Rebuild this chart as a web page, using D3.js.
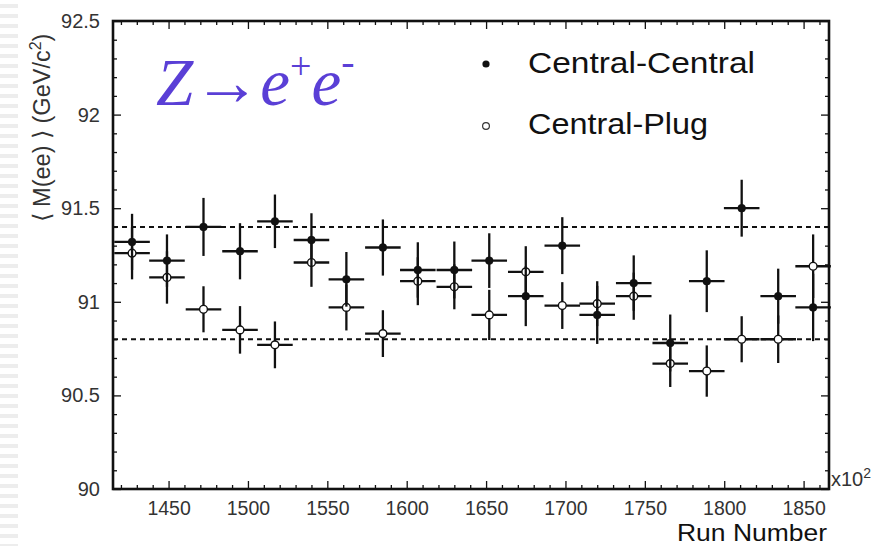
<!DOCTYPE html>
<html><head><meta charset="utf-8">
<script src="https://cdn.jsdelivr.net/npm/d3@7"></script>
<style>
html,body{margin:0;padding:0;background:#fff;}
svg{display:block;}
</style></head>
<body>
<svg id="chart" width="873" height="546"></svg>
<script>
// ---- data ----
const runs   = [1427,1449,1472,1495,1517,1540,1562,1585,1607,1630,1652,1675,1698,1720,1743,1766,1789,1811,1834,1856];
const runErr = 11.2;
const ccMass = [91.32,91.22,91.40,91.27,91.43,91.33,91.12,91.29,91.17,91.17,91.22,91.03,91.30,90.93,91.10,90.78,91.11,91.50,91.03,90.97];
const ccErr  = [0.15,0.14,0.155,0.15,0.143,0.143,0.146,0.15,0.148,0.152,0.146,0.16,0.152,0.155,0.148,0.152,0.165,0.152,0.147,0.18];
const cpMass = [91.26,91.13,90.96,90.85,90.77,91.21,90.97,90.83,91.11,91.08,90.93,91.16,90.98,90.99,91.03,90.67,90.63,90.80,90.80,91.19];
const cpErr  = [0.14,0.14,0.123,0.127,0.125,0.13,0.123,0.125,0.128,0.12,0.134,0.137,0.125,0.12,0.126,0.125,0.137,0.123,0.127,0.17];
const bandLines = [91.4, 90.8];
const xTickValues = [1450,1500,1550,1600,1650,1700,1750,1800,1850];
const yTickValues = [90,90.5,91,91.5,92,92.5];
const yTickLabels = ["90","90.5","91","91.5","92","92.5"];
const legendLabels = ["Central-Central","Central-Plug"];

// ---- layout ----
const svg = d3.select("#chart");
const L = 113, R = 829, T = 21, B = 489;
const x = d3.scaleLinear().domain([1415, 1866]).range([L, R]);
const y = d3.scaleLinear().domain([90, 92.5]).range([B, T]);
const ink = "#111";
const sans = "Liberation Sans, Arial, sans-serif";

// faint slide stripes at the left edge
const stripes = svg.append("g");
d3.range(4, 546, 10).forEach(v => {
  stripes.append("rect").attr("x", 0).attr("y", v).attr("width", 18).attr("height", 4)
    .attr("fill", "#ededed");
});

// minor / major ticks
const xMinor = d3.range(1420, 1866, 10).filter(v => v % 50 !== 0);
const yMinor = d3.range(901, 925, 1).map(v => v / 10).filter(v => Math.round(v * 10) % 5 !== 0);

function styleAxis(g) {
  g.select(".domain").remove();
  g.selectAll("line").attr("stroke", ink).attr("stroke-width", 1.3);
}
// bottom
svg.append("g").attr("transform", `translate(0,${B})`)
  .call(d3.axisBottom(x).tickValues(xTickValues).tickSize(-8).tickPadding(12.5).tickFormat(d3.format("d")))
  .call(styleAxis)
  .call(g => g.selectAll("text").attr("font-family", sans)
      .attr("font-size", 19.5).attr("fill", "#333"));
svg.append("g").attr("transform", `translate(0,${B})`)
  .call(d3.axisBottom(x).tickValues(xMinor).tickSize(-4).tickFormat(""))
  .call(styleAxis);
// top
svg.append("g").attr("transform", `translate(0,${T})`)
  .call(d3.axisTop(x).tickValues(xTickValues).tickSize(-8).tickFormat(""))
  .call(styleAxis);
svg.append("g").attr("transform", `translate(0,${T})`)
  .call(d3.axisTop(x).tickValues(xMinor).tickSize(-4).tickFormat(""))
  .call(styleAxis);
// left
svg.append("g").attr("transform", `translate(${L},0)`)
  .call(d3.axisLeft(y).tickValues(yTickValues).tickSize(-8).tickPadding(13)
        .tickFormat((d, i) => yTickLabels[i]))
  .call(styleAxis)
  .call(g => g.selectAll("text").attr("font-family", sans)
      .attr("font-size", 20).attr("fill", "#333"));
svg.append("g").attr("transform", `translate(${L},0)`)
  .call(d3.axisLeft(y).tickValues(yMinor).tickSize(-4).tickFormat(""))
  .call(styleAxis);
// right
svg.append("g").attr("transform", `translate(${R},0)`)
  .call(d3.axisRight(y).tickValues(yTickValues).tickSize(-8).tickFormat(""))
  .call(styleAxis);
svg.append("g").attr("transform", `translate(${R},0)`)
  .call(d3.axisRight(y).tickValues(yMinor).tickSize(-4).tickFormat(""))
  .call(styleAxis);

// frame
svg.append("rect").attr("x", L).attr("y", T).attr("width", R - L).attr("height", B - T)
  .attr("fill", "none").attr("stroke", ink).attr("stroke-width", 2.6);

// dashed reference lines
svg.append("g").selectAll("line").data(bandLines).join("line")
  .attr("x1", L).attr("x2", R).attr("y1", d => y(d)).attr("y2", d => y(d))
  .attr("stroke", ink).attr("stroke-width", 2).attr("stroke-dasharray", "5,4");

// error bars + markers
function drawSeries(mass, err, filled) {
  const g = svg.append("g");
  const data = runs.map((r, i) => ({ r, m: mass[i], e: err[i] }));
  g.selectAll(".v").data(data).join("line")
    .attr("x1", d => x(d.r)).attr("x2", d => x(d.r))
    .attr("y1", d => y(d.m - d.e)).attr("y2", d => y(d.m + d.e))
    .attr("stroke", ink).attr("stroke-width", 2.3);
  g.selectAll(".h").data(data).join("line")
    .attr("x1", d => x(d.r - runErr)).attr("x2", d => x(d.r + runErr))
    .attr("y1", d => y(d.m)).attr("y2", d => y(d.m))
    .attr("stroke", ink).attr("stroke-width", 2.3);
  g.selectAll("circle").data(data).join("circle")
    .attr("cx", d => x(d.r)).attr("cy", d => y(d.m))
    .attr("r", 3.9)
    .attr("fill", filled ? ink : "#fff").attr("stroke", ink).attr("stroke-width", filled ? 0.5 : 1.4);
}
drawSeries(cpMass, cpErr, false);
drawSeries(ccMass, ccErr, true);

// axis titles
svg.append("text").attr("x", 827).attr("y", 541).attr("text-anchor", "end")
  .attr("font-family", sans).attr("font-size", 24).attr("fill", "#111")
  .attr("textLength", 150).attr("lengthAdjust", "spacingAndGlyphs")
  .text("Run Number");
const xs = svg.append("text").attr("x", 831).attr("y", 486)
  .attr("font-family", sans).attr("font-size", 20).attr("fill", "#333");
xs.append("tspan").text("x10");
xs.append("tspan").attr("dy", -8).attr("font-size", 14).text("2");

const yl = svg.append("text").attr("transform", "translate(50,128) rotate(-90)")
  .attr("text-anchor", "middle")
  .attr("font-family", sans).attr("font-size", 23.5).attr("fill", "#333");
yl.append("tspan").text("\u27E8 M(ee) \u27E9 (GeV/c");
yl.append("tspan").attr("dy", -9).attr("font-size", 16).text("2");
yl.append("tspan").attr("dy", 9).text(")");

// legend
const lg = svg.append("g");
lg.append("circle").attr("cx", 486).attr("cy", 64).attr("r", 3.6).attr("fill", ink);
lg.append("circle").attr("cx", 486).attr("cy", 126).attr("r", 3.4).attr("fill", "#fff")
  .attr("stroke", "#333").attr("stroke-width", 1.2);
const legendWidths = [227, 180];
lg.selectAll("text").data(legendLabels).join("text")
  .attr("x", 528).attr("y", (d, i) => 73 + i * 61)
  .attr("font-family", sans).attr("font-size", 29).attr("fill", "#111")
  .attr("textLength", (d, i) => legendWidths[i]).attr("lengthAdjust", "spacingAndGlyphs")
  .text(d => d);

// reaction label
const tt = svg.append("text").attr("x", 156).attr("y", 105)
  .attr("font-family", "Liberation Serif, Times New Roman, serif").attr("font-style", "italic")
  .attr("font-size", 67).attr("fill", "#5a3fd6");
tt.append("tspan").text("Z");
tt.append("tspan").attr("font-style", "normal").text("\u2192");
tt.append("tspan").text("e");
tt.append("tspan").attr("dy", -26).attr("font-size", 38).attr("font-style", "normal").text("+");
tt.append("tspan").attr("dy", 26).text("e");
tt.append("tspan").attr("dy", -30).attr("font-size", 40).text("-");
</script>
</body></html>
